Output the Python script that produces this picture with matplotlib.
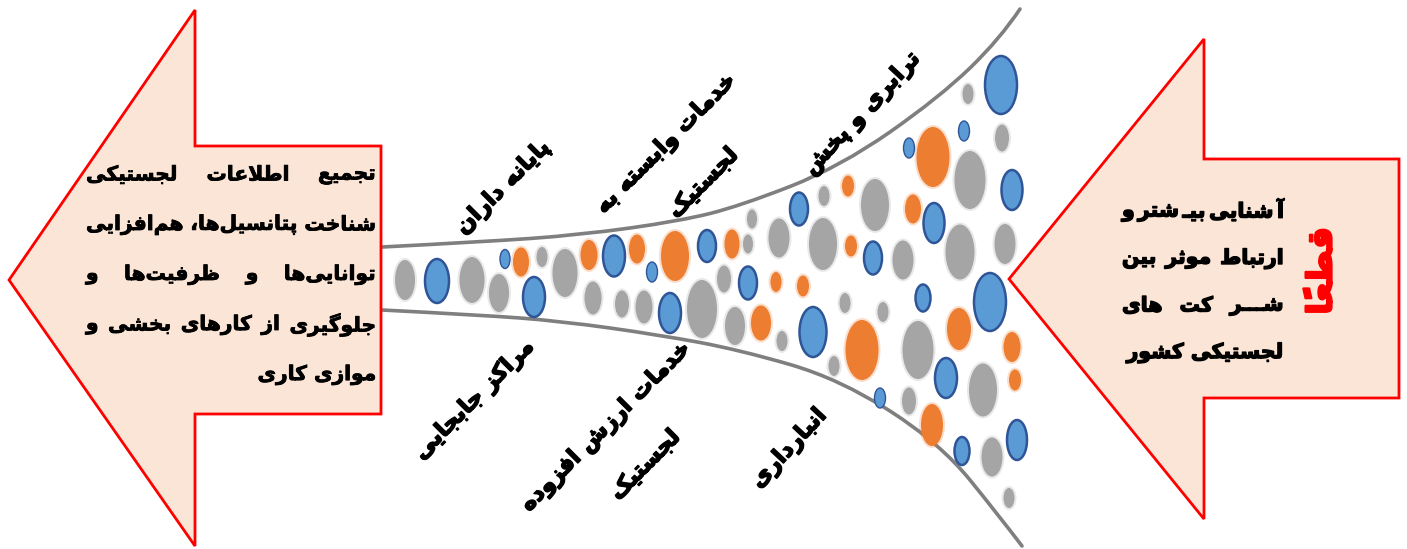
"""Logistics funnel diagram: bubbles flowing between two arrows, Persian labels."""

import matplotlib

matplotlib.use("Agg")
import matplotlib.patheffects as pe
import matplotlib.pyplot as plt
import numpy as np
from matplotlib.patches import Ellipse, PathPatch, Polygon
from matplotlib.path import Path

# ---- bubbles (pixel coords of the 1407x549 picture) ----
bubble_x = [405, 437, 472, 499, 505, 521, 534, 542, 565,
            589, 593, 614, 637, 652,
            622, 644, 675, 670, 702, 707, 724, 732, 748, 752, 748, 735,
            1001, 968, 964, 1002, 909, 933, 970, 1012, 848, 824, 799, 875, 913, 934,
            779, 823, 851, 873, 903, 960, 1005,
            776, 803, 990, 923, 845, 883, 761, 782, 813, 862, 918, 959, 1012, 1015,
            834, 946, 983, 880, 909, 932, 962, 992, 1017, 1009]
bubble_y = [280, 281, 280, 293, 259, 262, 297, 257, 273,
            255, 298, 256, 249, 272,
            304, 307, 256, 313, 309, 246, 279, 244, 244, 219, 283, 326,
            85, 94, 131, 138, 148, 157, 180, 190, 186, 196, 209, 205, 209, 223,
            238, 244, 246, 258, 260, 252, 244,
            282, 286, 302, 298, 303, 312, 323, 341, 332, 350, 350, 329, 347, 380,
            366, 378, 390, 398, 401, 425, 451, 457, 440, 498]
bubble_w = [20, 24, 25, 20, 10, 16, 22, 11, 25,
            17, 17, 22, 16, 11,
            14, 17, 28, 22, 30, 18, 14, 15, 10, 10, 18, 20,
            32, 11, 11, 14, 11, 33, 31, 21, 12, 11, 18, 28, 16, 21,
            21, 28, 12, 18, 21, 29, 21,
            11, 12, 32, 15, 11, 11, 20, 11, 27, 33, 31, 24, 17, 12,
            11, 22, 28, 11, 14, 22, 15, 21, 20, 11]
bubble_h = [40, 44, 46, 38, 19, 29, 40, 20, 48,
            30, 33, 41, 29, 20,
            27, 33, 50, 40, 58, 32, 27, 29, 19, 19, 33, 38,
            58, 20, 20, 27, 20, 60, 58, 40, 21, 20, 33, 52, 29, 40,
            39, 52, 21, 33, 39, 55, 40,
            20, 21, 58, 27, 20, 20, 35, 20, 50, 60, 58, 42, 30, 21,
            20, 40, 53, 20, 27, 42, 28, 39, 40, 20]
bubble_kind = list("gbggbobgg"
                   "ogbob"
                   "ggobgbgoggbg"
                   "bgbgbogbogbgob"
                   "ggobggg"
                   "oobbggogbogooo"
                   "gbgbgobgbg")

# ---- funnel outline ----
top_x = [382, 480, 580, 680, 740, 840, 940, 1000, 1020]
top_y = [247, 242, 235, 221, 206, 167, 97, 39, 9]
bot_x = [382, 480, 560, 660, 740, 840, 940, 1000, 1022]
bot_y = [310, 315, 321, 335, 350, 379, 443, 517, 546]

# ---- texts ----
left_lines = ["تجمیع اطلاعات لجستیکی",
              "شناخت پتانسیل‌ها، هم‌افزایی",
              "توانایی‌ها و ظرفیت‌ها و",
              "جلوگیری از کارهای بخشی و",
              "موازی کاری"]
right_lines = ["آ شنایی بیـ شتر و",
               "ارتباط موثر بین",
               "شـــر کت های",
               "لجستیکی کشور"]
emphasis = "قطعاً"
label_text = ["پایانه داران", "خدمات وابسته به", "لجستیک", "ترابری و پخش",
              "مراکز جابجایی", "خدمات ارزش افزوده", "لجستیک", "انبارداری"]
label_cx = [503, 666, 703, 862, 474, 606, 645, 789]
label_cy = [188, 144, 183, 114, 400, 427, 465, 449]
label_rot = [45, 45, 45, 47, 45, 45, 45, 47]
label_len = [132, 167, 83, 148, 151, 220, 88, 106]

GRAY = "#A5A5A5"
BLUE = "#5B9BD5"
BLUE_EDGE = "#2F5597"
ORANGE = "#ED7D31"
PEACH = "#FBE5D6"
RED = "#FF0000"

# ---- minimal Arabic/Persian shaping (matplotlib has no complex text layout) ----
AR_FORMS = {
    "\u0621": ("\ufe80", None, None, None),
    "\u0622": ("\ufe81", "\ufe82", None, None),
    "\u0623": ("\ufe83", "\ufe84", None, None),
    "\u0624": ("\ufe85", "\ufe86", None, None),
    "\u0625": ("\ufe87", "\ufe88", None, None),
    "\u0626": ("\ufe89", "\ufe8a", "\ufe8b", "\ufe8c"),
    "\u0627": ("\ufe8d", "\ufe8e", None, None),
    "\u0628": ("\ufe8f", "\ufe90", "\ufe91", "\ufe92"),
    "\u0629": ("\ufe93", "\ufe94", None, None),
    "\u062a": ("\ufe95", "\ufe96", "\ufe97", "\ufe98"),
    "\u062b": ("\ufe99", "\ufe9a", "\ufe9b", "\ufe9c"),
    "\u062c": ("\ufe9d", "\ufe9e", "\ufe9f", "\ufea0"),
    "\u062d": ("\ufea1", "\ufea2", "\ufea3", "\ufea4"),
    "\u062e": ("\ufea5", "\ufea6", "\ufea7", "\ufea8"),
    "\u062f": ("\ufea9", "\ufeaa", None, None),
    "\u0630": ("\ufeab", "\ufeac", None, None),
    "\u0631": ("\ufead", "\ufeae", None, None),
    "\u0632": ("\ufeaf", "\ufeb0", None, None),
    "\u0633": ("\ufeb1", "\ufeb2", "\ufeb3", "\ufeb4"),
    "\u0634": ("\ufeb5", "\ufeb6", "\ufeb7", "\ufeb8"),
    "\u0635": ("\ufeb9", "\ufeba", "\ufebb", "\ufebc"),
    "\u0636": ("\ufebd", "\ufebe", "\ufebf", "\ufec0"),
    "\u0637": ("\ufec1", "\ufec2", "\ufec3", "\ufec4"),
    "\u0638": ("\ufec5", "\ufec6", "\ufec7", "\ufec8"),
    "\u0639": ("\ufec9", "\ufeca", "\ufecb", "\ufecc"),
    "\u063a": ("\ufecd", "\ufece", "\ufecf", "\ufed0"),
    "\u0641": ("\ufed1", "\ufed2", "\ufed3", "\ufed4"),
    "\u0642": ("\ufed5", "\ufed6", "\ufed7", "\ufed8"),
    "\u0643": ("\ufed9", "\ufeda", "\ufedb", "\ufedc"),
    "\u0644": ("\ufedd", "\ufede", "\ufedf", "\ufee0"),
    "\u0645": ("\ufee1", "\ufee2", "\ufee3", "\ufee4"),
    "\u0646": ("\ufee5", "\ufee6", "\ufee7", "\ufee8"),
    "\u0647": ("\ufee9", "\ufeea", "\ufeeb", "\ufeec"),
    "\u0648": ("\ufeed", "\ufeee", None, None),
    "\u0649": ("\ufeef", "\ufef0", None, None),
    "\u064a": ("\ufef1", "\ufef2", "\ufef3", "\ufef4"),
    "\u067e": ("\ufb56", "\ufb57", "\ufb58", "\ufb59"),
    "\u0686": ("\ufb7a", "\ufb7b", "\ufb7c", "\ufb7d"),
    "\u0698": ("\ufb8a", "\ufb8b", None, None),
    "\u06a9": ("\ufb8e", "\ufb8f", "\ufb90", "\ufb91"),
    "\u06af": ("\ufb92", "\ufb93", "\ufb94", "\ufb95"),
    "\u06cc": ("\ufbfc", "\ufbfd", "\ufbfe", "\ufbff"),
}
LAM_ALEF = {"\u0627": ("\ufefb", "\ufefc"), "\u0622": ("\ufef5", "\ufef6"),
            "\u0623": ("\ufef7", "\ufef8"), "\u0625": ("\ufef9", "\ufefa")}
TATWEEL = "\u0640"
MARKS = {chr(c) for c in range(0x064B, 0x0653)}


def joins_next(ch):
    return ch == TATWEEL or (ch in AR_FORMS and AR_FORMS[ch][2] is not None)


def joinable(ch):
    return ch == TATWEEL or ch in AR_FORMS


def rtl(text):
    clusters = []
    for ch in text:
        if ch in MARKS and clusters:
            clusters[-1][1].append(ch)
        else:
            clusters.append([ch, []])
    bases = [c[0] for c in clusters]
    out = []
    i, n = 0, len(bases)
    while i < n:
        ch = bases[i]
        prev = bases[i - 1] if i > 0 else None
        nxt = bases[i + 1] if i + 1 < n else None
        link_prev = prev is not None and joins_next(prev)
        if ch == "\u0644" and nxt in LAM_ALEF:
            g = LAM_ALEF[nxt][1 if link_prev else 0]
            out.append(g + "".join(clusters[i][1] + clusters[i + 1][1]))
            i += 2
            continue
        if ch == "\u200c":
            i += 1
            continue
        if ch in AR_FORMS:
            iso, fin, ini, med = AR_FORMS[ch]
            link_next = ini is not None and nxt is not None and joinable(nxt)
            if link_prev and link_next:
                g = med
            elif link_prev:
                g = fin or iso
            elif link_next:
                g = ini
            else:
                g = iso
        else:
            g = ch
        out.append(g + "".join(clusters[i][1]))
        i += 1
    return "".join(reversed(out))


def smooth_path(xs, ys):
    pts = np.column_stack([xs, ys]).astype(float)
    verts = [pts[0]]
    codes = [Path.MOVETO]
    for k in range(1, len(pts) - 1):
        end = pts[k + 1] if k == len(pts) - 2 else (pts[k] + pts[k + 1]) / 2
        verts += [pts[k], end]
        codes += [Path.CURVE3, Path.CURVE3]
    return Path(verts, codes)


FONT = dict(family="DejaVu Sans", weight="bold")

fig = plt.figure(figsize=(14.07, 5.49), dpi=100)
ax = fig.add_axes([0, 0, 1, 1])
ax.set_xlim(0, 1407)
ax.set_ylim(549, 0)
ax.axis("off")
renderer = fig.canvas.get_renderer()


def text_width(s, size):
    t = ax.text(0, 0, s, fontsize=size, **FONT)
    w = t.get_window_extent(renderer).width
    t.remove()
    return w


def bold(lw, color="black"):
    return [pe.withStroke(linewidth=lw, foreground=color)]


# funnel
for xs, ys in [(top_x, top_y), (bot_x, bot_y)]:
    ax.add_patch(PathPatch(smooth_path(xs, ys), fill=False, ec="#7F7F7F",
                           lw=2.6, capstyle="round", zorder=1))

# bubbles
colors = {"g": GRAY, "b": BLUE, "o": ORANGE}
for x, y, w, h, k in zip(bubble_x, bubble_y, bubble_w, bubble_h, bubble_kind):
    if k == "b":
        lw = 1.0 if w < 14 else 1.8
        ax.add_patch(Ellipse((x, y), w, h, fc=BLUE, ec=BLUE_EDGE, lw=lw, zorder=3))
    else:
        ax.add_patch(Ellipse((x, y), w + 4, h + 4, fc=colors[k], ec="none",
                             alpha=0.25, zorder=2))
        ax.add_patch(Ellipse((x, y), w, h, fc=colors[k], ec="none", zorder=3))

# arrows
left_arrow = [(9, 280), (195, 10), (195, 146), (381, 146), (381, 414),
              (195, 414), (195, 546)]
right_arrow = [(1009, 279), (1204, 39), (1204, 159), (1399, 159), (1399, 398),
               (1204, 398), (1204, 519)]
for verts in (left_arrow, right_arrow):
    ax.add_patch(Polygon(verts, closed=True, fc=PEACH, ec=RED, lw=2.0,
                         joinstyle="miter", zorder=4))


def draw_block(lines, x_left, x_right, y0, dy, justify, stroke, min_gap):
    base = 20
    # largest size at which every justified line still fits with min_gap
    sizes = []
    for line, j in zip(lines, justify):
        if j:
            words = line.split(" ")
            total = sum(text_width(rtl(w), base) for w in words)
            avail = x_right - x_left - min_gap * (len(words) - 1)
            sizes.append(base * avail / total)
    size = min(sizes)
    for i, line in enumerate(lines):
        y = y0 + i * dy
        if justify[i]:
            words = line.split(" ")
            shaped = [rtl(w) for w in words]
            widths = [text_width(s, size) for s in shaped]
            gap = (x_right - x_left - sum(widths)) / (len(words) - 1)
            x = x_right
            for s, w in zip(shaped, widths):
                ax.text(x, y, s, fontsize=size, ha="right", va="center",
                        zorder=6, path_effects=bold(stroke), **FONT)
                x -= w + gap
        else:
            ax.text(x_right, y, rtl(line), fontsize=size, ha="right",
                    va="center", zorder=6, path_effects=bold(stroke), **FONT)


draw_block(left_lines, 86, 376, 175, 50, [True, True, True, True, False], 0.6, 7)
draw_block(right_lines, 1122, 1284, 212, 47, [True, True, True, False], 1.0, 3.5)

# emphasis word, vertical, red
emph_size = 20 * 88 / text_width(rtl(emphasis), 20)
ax.text(1322, 271, rtl(emphasis), fontsize=emph_size, color=RED, rotation=90,
        ha="center", va="center", rotation_mode="anchor", zorder=6,
        path_effects=bold(1.6, RED), **FONT)

# diagonal labels along the funnel
fits = [20 * L / text_width(rtl(s), 20) for s, L in zip(label_text, label_len)]
label_size = float(np.median(fits)) * 1.05
for s, x, y, r in zip(label_text, label_cx, label_cy, label_rot):
    ax.text(x, y, rtl(s), fontsize=label_size, rotation=r, ha="center",
            va="center", rotation_mode="anchor", zorder=6,
            path_effects=bold(1.1), **FONT)

fig.savefig("out.png", dpi=100)
